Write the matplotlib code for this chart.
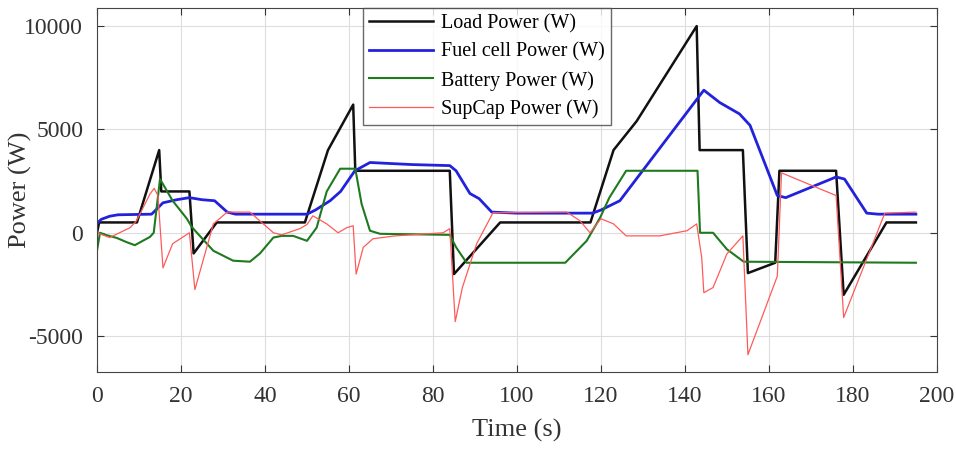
"""
Power split between load, fuel cell, battery and supercapacitor
"""
import numpy as np
import matplotlib
matplotlib.use('Agg')
import matplotlib.pyplot as plt

plt.rcParams['font.family'] = ['Liberation Serif', 'DejaVu Serif']
plt.rcParams['axes.unicode_minus'] = False

# Load power
t_load = [0, 0.5, 9.5, 14.8, 15.3, 22, 23, 28.5, 49.5, 55, 61, 61.5, 84, 85,
          96, 117.5, 123, 128.5, 142.8, 143.5, 153.8, 155, 161.5, 162.5, 176,
          177.8, 188, 195]
p_load = [0, 500, 500, 4000, 2000, 2000, -1000, 500, 500, 4000, 6200, 3000,
          3000, -2000, 500, 500, 4000, 5400, 10000, 4000, 4000, -1950, -1450,
          3000, 3000, -3000, 500, 500]

# Fuel cell power
t_fc = [0, 1, 3, 5, 13, 15.7, 19, 22, 25, 28, 31, 33, 50, 52, 55.5, 58, 61.4,
        65, 75, 84, 85.5, 88.8, 91, 94, 100, 118, 120, 124.5, 144.5, 148.3,
        153, 155.5, 162, 164, 170, 176, 178, 183.3, 186, 195]
p_fc = [450, 650, 800, 870, 900, 1450, 1600, 1700, 1600, 1550, 1000, 900, 900,
        1100, 1550, 2000, 3000, 3400, 3300, 3250, 3000, 1900, 1650, 1000, 950,
        950, 1100, 1550, 6900, 6300, 5750, 5200, 1800, 1700, 2200, 2700, 2600,
        950, 900, 900]

# Battery power
t_bat = [0, 0.7, 2, 4.7, 7, 9, 12.6, 13.5, 15, 18, 21.4, 22.5, 23.8, 27.7,
         32.4, 36.4, 38.8, 42, 44, 46.7, 50, 52.3, 54.7, 57.9, 61.5, 63, 65,
         67.4, 84, 85.5, 88, 111.5, 116.6, 119.8, 122, 126, 143, 143.6, 146.7,
         150, 154, 195]
p_bat = [-850, 0, -100, -250, -450, -600, -200, 0, 2600, 1550, 680, 300, 0,
         -870, -1350, -1400, -1000, -230, -150, -150, -390, 250, 2000, 3100,
         3100, 1400, 100, -50, -100, -700, -1450, -1450, -390, 730, 1700, 3000,
         3000, 0, 0, -800, -1400, -1450]

# Supercapacitor power
t_sc = [0, 3, 7.9, 9.4, 12.6, 13.6, 14.5, 15.7, 18, 22, 23.3, 26, 27.7, 31,
        36.4, 42, 44, 48.3, 50, 51.4, 54.7, 57.4, 59.5, 61, 61.7, 63.4, 65.7,
        71, 82.4, 84, 85.3, 87, 90.4, 94.3, 111.9, 115, 117.4, 120, 123, 126,
        134, 140.5, 142.8, 144, 144.5, 146.7, 150, 153.8, 155, 162, 163, 176,
        177.8, 187.6, 195]
p_sc = [0, -230, 250, 580, 1870, 2150, 1800, -1700, -530, 0, -2750, -800, 430,
        1000, 1000, 0, -100, 200, 400, 820, 430, 0, 250, 340, -2000, -710,
        -290, -150, 0, 200, -4300, -2650, -530, 970, 1000, 580, 0, 680, 430,
        -150, -150, 100, 430, -1200, -2900, -2650, -1020, -150, -5900, -2100,
        2900, 1800, -4100, 950, 1000]

fig = plt.figure(figsize=(9.56, 4.51), dpi=100)
ax = fig.add_axes([0.1015, 0.175, 0.8785, 0.807])

ax.plot(t_load, p_load, color='#111111', lw=1.8, label='Load Power (W)')
ax.plot(t_fc, p_fc, color='#2222dd', lw=2.0, label='Fuel cell Power (W)')
ax.plot(t_bat, p_bat, color='#1e7a1e', lw=1.5, label='Battery Power (W)')
ax.plot(t_sc, p_sc, color='#ff5a5a', lw=0.9, label='SupCap Power (W)')

ax.set_xlim(0, 200)
ax.set_ylim(-6740, 10870)
ax.set_xticks(np.arange(0, 201, 20))
ax.set_yticks([-5000, 0, 5000, 10000])
ax.grid(True, color='#dddddd', lw=0.8)
ax.tick_params(direction='in', top=True, right=True, labelsize=17, length=5,
               pad=10, colors='#333333')
for s in ax.spines.values():
    s.set_color('#444444')

ax.set_xlabel('Time (s)', fontsize=19, color='#333333')
ax.set_ylabel('Power (W)', fontsize=19, color='#333333')
ax.xaxis.set_label_coords(0.5, -0.13)
ax.yaxis.set_label_coords(-0.077, 0.5)

leg = ax.legend(loc='upper center', bbox_to_anchor=(0.464, 1.0), fontsize=14.5,
                frameon=True, fancybox=False, edgecolor='#444444',
                handlelength=3.2, labelspacing=0.45, borderpad=0.3,
                handletextpad=0.4, borderaxespad=0)
leg.get_frame().set_linewidth(1.0)

fig.savefig('out.png', dpi=100, facecolor='white')
